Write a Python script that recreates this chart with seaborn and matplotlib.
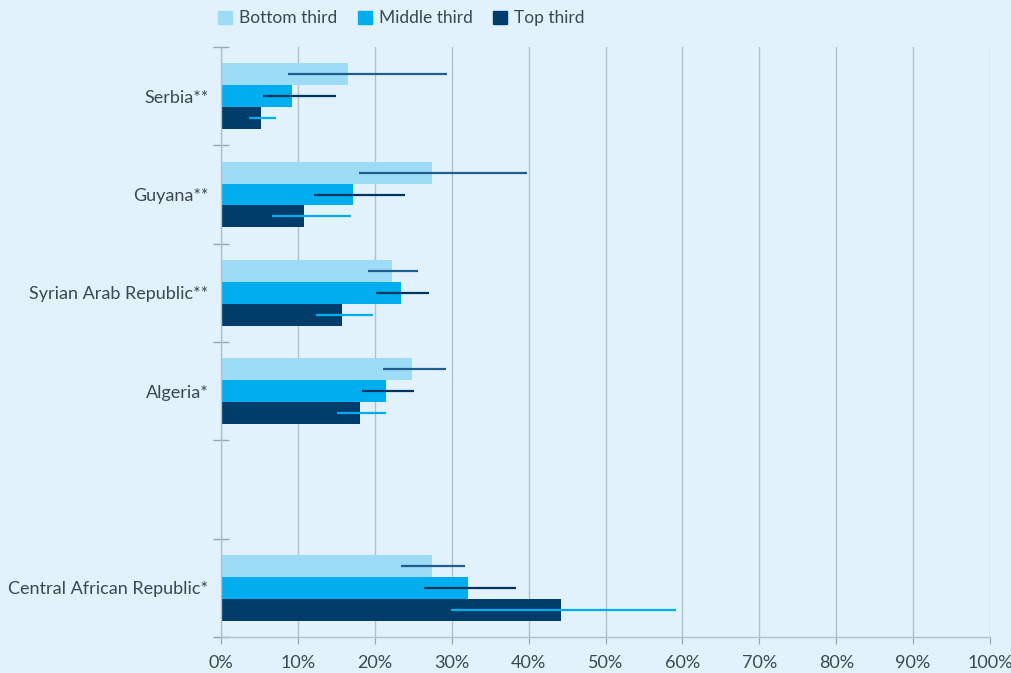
import numpy as np
import pandas as pd
import matplotlib
matplotlib.use("Agg")
import matplotlib.pyplot as plt
import seaborn as sns

# ------------------------------------------------------
# Data (shares, %)
# ------------------------------------------------------

countries = ["Serbia**", "Guyana**", "Syrian Arab Republic**", "Algeria*",
             "Central African Republic*"]
slots = ["Serbia**", "Guyana**", "Syrian Arab Republic**", "Algeria*", " ",
         "Central African Republic*"]
groups = ["Bottom third", "Middle third", "Top third"]

bottom_third = [16.5, 27.5, 22.2, 24.9, 27.4]
middle_third = [9.2, 17.2, 23.4, 21.5, 32.1]
top_third = [5.2, 10.8, 15.7, 18.1, 44.2]

bottom_low = [8.7, 17.9, 19.1, 21.1, 23.4]
bottom_high = [29.4, 39.8, 25.6, 29.3, 31.7]
middle_low = [5.5, 12.1, 20.1, 18.3, 26.4]
middle_high = [15.0, 23.9, 27.0, 25.1, 38.4]
top_low = [3.6, 6.6, 12.4, 15.1, 29.9]
top_high = [7.2, 16.9, 19.8, 21.5, 59.2]

bar_colors = ["#9ddcf7", "#00aeef", "#003d6b"]
err_colors = ["#1f5f8f", "#00355f", "#00aeef"]

df = pd.DataFrame({
    "Country": countries * 3,
    "Group": np.repeat(groups, len(countries)),
    "Value": bottom_third + middle_third + top_third,
    "Low": bottom_low + middle_low + top_low,
    "High": bottom_high + middle_high + top_high,
})

# ------------------------------------------------------
# Plot
# ------------------------------------------------------

bg = "#e1f2fc"
text_col = "#3b4853"
plt.rcParams["font.family"] = ["Lato", "DejaVu Sans"]

fig, ax = plt.subplots(figsize=(10.11, 6.73), dpi=100)
fig.patch.set_facecolor(bg)
ax.set_facecolor(bg)
fig.subplots_adjust(left=221 / 1011, right=990 / 1011, top=1 - 47 / 673,
                    bottom=1 - 637 / 673)

bar_w = 0.67
sns.barplot(data=df, y="Country", x="Value", hue="Group", order=slots,
            hue_order=groups, palette=bar_colors, saturation=1, orient="h",
            width=bar_w, gap=0, linewidth=0, ax=ax, legend=True, zorder=2)

# error ranges as plain horizontal lines
step = bar_w / len(groups)
for j, g in enumerate(groups):
    sub = df[df["Group"] == g]
    ys = [slots.index(c) - bar_w / 2 + step * (j + 0.5) for c in sub["Country"]]
    ax.hlines(ys, sub["Low"], sub["High"], color=err_colors[j], lw=1.6, zorder=3)

ax.set_xlim(0, 100)
ax.set_ylim(len(slots) - 0.5, -0.5)
ax.set_xticks(np.arange(0, 101, 10))
ax.set_xticklabels([f"{v}%" for v in range(0, 101, 10)])
ax.set_yticks(range(len(slots)))
ax.set_yticklabels(slots)
ax.set_yticks(np.arange(-0.5, len(slots), 1), minor=True)
ax.tick_params(axis="y", which="major", length=0, pad=9, labelsize=13,
               labelcolor=text_col)
ax.tick_params(axis="y", which="minor", length=12, direction="inout",
               color="#9aa7b0", width=1)
ax.tick_params(axis="x", length=5, color="#9aa7b0", labelsize=13,
               labelcolor=text_col, pad=8)
ax.set_xlabel("")
ax.set_ylabel("")

ax.grid(axis="x", color="#b3c0c8", lw=1, zorder=0)
ax.set_axisbelow(True)
for s in ["top", "right"]:
    ax.spines[s].set_visible(False)
for s in ["left", "bottom"]:
    ax.spines[s].set_color("#b3c0c8")
    ax.spines[s].set_linewidth(1)

ax.legend_.remove()
handles = [plt.Rectangle((0, 0), 1, 1, color=c) for c in bar_colors]
fig.legend(handles, groups, loc="upper left", bbox_to_anchor=(0.2, 1.008),
           ncol=3, frameon=False, fontsize=12.5, handlelength=0.8,
           handleheight=0.8, handletextpad=0.4, columnspacing=1.2,
           labelcolor=text_col)

plt.savefig("out.png", dpi=100, facecolor=bg)
